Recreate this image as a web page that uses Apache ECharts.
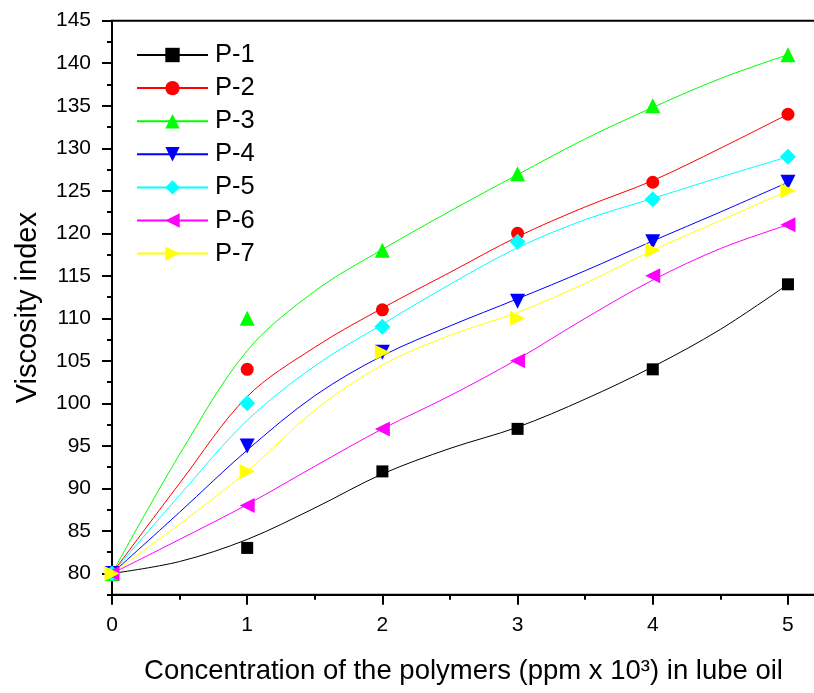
<!DOCTYPE html>
<html>
<head>
<meta charset="utf-8">
<script src="https://cdn.jsdelivr.net/npm/echarts@6/dist/echarts.min.js"></script>
<style>html,body{margin:0;padding:0;background:#fff}#c{width:814px;height:693px}</style>
</head>
<body>
<div id="c"></div>
<script>
// concentration (ppm x 10^3)
const conc = [0, 1, 2, 3, 4, 5];
// measured viscosity index (markers)
const p1 = [80, 83, 92, 97, 104, 114];
const p2 = [80, 104, 111, 120, 126, 134];
const p3 = [80, 110, 118, 127, 135, 141];
const p4 = [80, 95, 106, 112, 119, 126];
const p5 = [80, 100, 109, 119, 124, 129];
const p6 = [80, 88, 97, 105, 115, 121];
const p7 = [80, 92, 106, 110, 118, 125];
// fitted (B-spline) curve values
const curveConc = [0, 0.5, 1, 1.5, 2, 2.5, 3, 3.5, 4, 4.5, 5];
const p1Curve = [80, 81.4, 84, 87.7, 91.7, 94.7, 97.2, 100.5, 104.3, 108.7, 114];
const p2Curve = [80, 90.6, 100.8, 106.6, 111.2, 115.4, 119.6, 123.1, 126.2, 130, 134];
const p3Curve = [80, 94, 106.2, 113.2, 118.1, 122.6, 126.9, 131.1, 134.8, 138.2, 141];
const p4Curve = [80, 87.2, 94.5, 100.9, 105.6, 109.1, 112.3, 115.6, 119.1, 122.5, 126];
const p5Curve = [80, 89.2, 98, 104.4, 109.3, 114, 118.3, 121.6, 124.1, 126.6, 129];
const p6Curve = [80, 84, 88.1, 92.6, 97, 100.9, 105.2, 110, 114.5, 118.2, 121];
const p7Curve = [80, 85.8, 92, 99.2, 104.5, 108, 110.7, 114.1, 118, 121.5, 125];
// tick labels
const xTicks = [0, 1, 2, 3, 4, 5];
const xMinorTicks = [0.5, 1.5, 2.5, 3.5, 4.5];
const yTicks = [80, 85, 90, 95, 100, 105, 110, 115, 120, 125, 130, 135, 140, 145];
const yMinorTicks = [77.5, 82.5, 87.5, 92.5, 97.5, 102.5, 107.5, 112.5, 117.5, 122.5, 127.5, 132.5, 137.5, 142.5];
const names = ['P-1', 'P-2', 'P-3', 'P-4', 'P-5', 'P-6', 'P-7'];

const seriesDefs = [
  {name: 'P-1', pts: p1, curve: p1Curve, color: '#000000', symbol: 'rect', size: 12, rot: 0},
  {name: 'P-2', pts: p2, curve: p2Curve, color: '#ff0000', symbol: 'circle', size: 13, rot: 0},
  {name: 'P-3', pts: p3, curve: p3Curve, color: '#00ff00', symbol: 'triangle', size: 15, rot: 0},
  {name: 'P-4', pts: p4, curve: p4Curve, color: '#0000ff', symbol: 'triangle', size: 15, rot: 180},
  {name: 'P-5', pts: p5, curve: p5Curve, color: '#00ffff', symbol: 'diamond', size: 16, rot: 0},
  {name: 'P-6', pts: p6, curve: p6Curve, color: '#ff00ff', symbol: 'triangle', size: 15, rot: 90},
  {name: 'P-7', pts: p7, curve: p7Curve, color: '#ffff00', symbol: 'triangle', size: 15, rot: -90}
];

const lineSeries = seriesDefs.map(d => ({
  name: d.name, type: 'line', xAxisIndex: 0, yAxisIndex: 0,
  data: curveConc.map((x, i) => [x, d.curve[i]]),
  smooth: 0.34, showSymbol: false, symbol: d.symbol, symbolSize: d.size, symbolRotate: d.rot,
  lineStyle: {color: d.color, width: 1}, itemStyle: {color: d.color},
  z: 2, silent: true
}));
const markerSeries = seriesDefs.map(d => ({
  name: d.name, type: 'scatter', xAxisIndex: 0, yAxisIndex: 0,
  data: conc.map((x, i) => [x, d.pts[i]]),
  symbol: d.symbol, symbolSize: d.size, symbolRotate: d.rot,
  itemStyle: {color: d.color, opacity: 1}, z: 3, silent: true
}));

const font = 'Liberation Sans, Arial, sans-serif';
const chart = echarts.init(document.getElementById('c'), null, {renderer: 'canvas'});
chart.setOption({
  animation: false,
  backgroundColor: '#fff',
  grid: {left: 112, top: 20.7, width: 703, height: 574, outerBoundsMode: 'none', containLabel: false,
         show: true, borderColor: '#000', borderWidth: 2, backgroundColor: 'transparent'},
  legend: {
    orient: 'vertical', left: 131, top: 37, itemWidth: 71, itemHeight: 18, itemGap: 7.1,
    data: names, textStyle: {fontSize: 25.5, fontFamily: font, color: '#000', padding: [0, 0, 0, 2]},
    selectedMode: false
  },
  xAxis: [
    {type: 'value', min: 0, max: 5.2, position: 'bottom',
     name: 'Concentration of the polymers (ppm x 10³) in lube oil', nameLocation: 'middle', nameGap: 63,
     nameTextStyle: {fontSize: 27.5, fontFamily: font, color: '#000'},
     axisLine: {show: true, lineStyle: {color: '#000', width: 2}},
     axisTick: {show: true, customValues: xTicks, length: 10, lineStyle: {color: '#000', width: 2}},
     axisLabel: {customValues: xTicks, fontSize: 21, fontFamily: font, color: '#000', margin: 20},
     splitLine: {show: false}},
    {type: 'value', min: 0, max: 5.2, position: 'bottom', gridIndex: 0,
     axisLine: {show: false},
     axisTick: {show: true, customValues: xMinorTicks, length: 5, lineStyle: {color: '#000', width: 2}},
     axisLabel: {show: false}, splitLine: {show: false}}
  ],
  yAxis: [
    {type: 'value', min: 77.5, max: 145, position: 'left',
     name: 'Viscosity index', nameLocation: 'middle', nameGap: 70,
     nameTextStyle: {fontSize: 29, fontFamily: font, color: '#000'},
     axisLine: {show: true, lineStyle: {color: '#000', width: 2}},
     axisTick: {show: true, customValues: yTicks, length: 10, lineStyle: {color: '#000', width: 2}},
     axisLabel: {customValues: yTicks, fontSize: 21, fontFamily: font, color: '#000', margin: 21},
     splitLine: {show: false}},
    {type: 'value', min: 77.5, max: 145, position: 'left', gridIndex: 0,
     axisLine: {show: false},
     axisTick: {show: true, customValues: yMinorTicks, length: 5, lineStyle: {color: '#000', width: 2}},
     axisLabel: {show: false}, splitLine: {show: false}}
  ],
  series: lineSeries.concat(markerSeries)
});
</script>
</body>
</html>
